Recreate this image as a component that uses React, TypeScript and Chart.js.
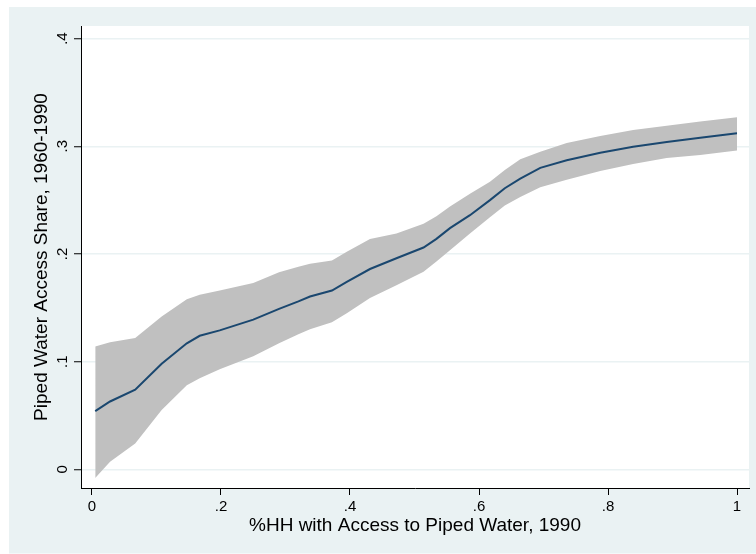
import React, { useEffect, useRef } from "react";
import { Chart, registerables } from "chart.js";

Chart.register(...registerables);

// x: %HH with access to piped water, 1990
const xs = [0.005, 0.028, 0.067, 0.108, 0.147, 0.167, 0.198, 0.25, 0.29, 0.32, 0.338, 0.372, 0.395, 0.431, 0.472, 0.514, 0.534, 0.555, 0.586, 0.617, 0.64, 0.664, 0.695, 0.736, 0.788, 0.839, 0.891, 0.943, 1.0];
// fitted share
const fit = [0.054, 0.063, 0.074, 0.098, 0.117, 0.124, 0.129, 0.139, 0.149, 0.156, 0.1605, 0.166, 0.174, 0.186, 0.196, 0.206, 0.214, 0.224, 0.236, 0.25, 0.261, 0.27, 0.28, 0.287, 0.294, 0.2995, 0.304, 0.308, 0.312];
// confidence band
const upper = [0.114, 0.118, 0.122, 0.142, 0.158, 0.162, 0.166, 0.173, 0.183, 0.188, 0.191, 0.194, 0.202, 0.214, 0.219, 0.228, 0.235, 0.244, 0.256, 0.267, 0.278, 0.288, 0.295, 0.303, 0.3095, 0.315, 0.319, 0.323, 0.327];
const lower = [-0.008, 0.007, 0.024, 0.055, 0.078, 0.0845, 0.093, 0.105, 0.117, 0.1255, 0.13, 0.1365, 0.145, 0.159, 0.171, 0.1835, 0.193, 0.2035, 0.219, 0.234, 0.245, 0.253, 0.262, 0.269, 0.277, 0.2835, 0.289, 0.292, 0.296];

const xTickValues = [0, 0.2, 0.4, 0.6, 0.8, 1];
const xTickLabels = ["0", ".2", ".4", ".6", ".8", "1"];
const yTickValues = [0, 0.1, 0.2, 0.3, 0.4];
const yTickLabels = ["0", ".1", ".2", ".3", ".4"];

const xTitle = "%HH with Access to Piped Water, 1990";
const yTitle = "Piped Water Access Share, 1960-1990";

const FONT = "'Liberation Sans', Arial, Helvetica, sans-serif";
const PANEL = "#eaf2f3";

export default function App() {
  const ref = useRef<HTMLCanvasElement | null>(null);

  useEffect(() => {
    const canvas = ref.current;
    if (!canvas) return;

    const bgPlugin = {
      id: "stataBg",
      beforeDraw(chart: any) {
        const ctx = chart.ctx;
        const a = chart.chartArea;
        ctx.save();
        ctx.fillStyle = "#ffffff";
        ctx.fillRect(0, 0, chart.width, chart.height);
        ctx.fillStyle = PANEL;
        ctx.fillRect(9, 7, chart.width - 9, chart.height - 7.5);
        ctx.fillStyle = "#ffffff";
        ctx.fillRect(a.left, a.top, a.right - a.left, a.bottom - a.top);
        ctx.restore();
      },
      afterDraw(chart: any) {
        const ctx = chart.ctx;
        const ys = chart.scales.y;
        ctx.save();
        ctx.fillStyle = "#000000";
        ctx.font = `15px ${FONT}`;
        ctx.textAlign = "center";
        ctx.textBaseline = "alphabetic";
        yTickValues.forEach((v, i) => {
          const py = ys.getPixelForValue(v);
          ctx.save();
          ctx.translate(67, py);
          ctx.rotate(-Math.PI / 2);
          ctx.fillText(yTickLabels[i], 0, 0);
          ctx.restore();
        });
        ctx.restore();
      },
    };

    const toPts = (arr: number[]) => arr.map((y, i) => ({ x: xs[i], y }));

    const chart = new Chart(canvas, {
      type: "line",
      data: {
        datasets: [
          {
            label: "lower",
            data: toPts(lower),
            borderWidth: 0,
            borderColor: "rgba(0,0,0,0)",
            pointRadius: 0,
            fill: false,
            tension: 0,
            order: 2,
          },
          {
            label: "upper",
            data: toPts(upper),
            borderWidth: 0,
            borderColor: "rgba(0,0,0,0)",
            backgroundColor: "#c0c0c0",
            pointRadius: 0,
            fill: "-1",
            tension: 0,
            order: 1,
          },
          {
            label: "fit",
            data: toPts(fit),
            borderWidth: 2,
            borderColor: "#1a476f",
            pointRadius: 0,
            fill: false,
            tension: 0,
            order: 0,
          },
        ],
      },
      options: {
        responsive: false,
        animation: false,
        devicePixelRatio: 1,
        layout: { padding: { left: 0, top: 26, right: 7, bottom: 0 } },
        plugins: {
          legend: { display: false },
          tooltip: { enabled: false },
          filler: { propagate: false, drawTime: "beforeDatasetsDraw" },
        },
        scales: {
          x: {
            type: "linear",
            min: -0.01705,
            max: 1.0186,
            afterFit(scale: any) {
              scale.height = 66;
            },
            afterBuildTicks(scale: any) {
              scale.ticks = xTickValues.map((v) => ({ value: v }));
            },
            grid: {
              drawOnChartArea: false,
              drawTicks: true,
              tickLength: 7,
              tickColor: "#000000",
              tickWidth: 1,
            },
            border: { display: true, color: "#000000", width: 1 },
            ticks: {
              padding: 3,
              maxRotation: 0,
              minRotation: 0,
              color: "#000000",
              font: { family: FONT, size: 15 },
              callback: (v: any) => {
                const i = xTickValues.findIndex((t) => Math.abs(t - Number(v)) < 1e-9);
                return i >= 0 ? xTickLabels[i] : "";
              },
            },
            title: {
              display: true,
              text: xTitle,
              color: "#000000",
              font: { family: FONT, size: 19 },
              padding: { top: 0, bottom: 17 },
            },
          },
          y: {
            type: "linear",
            min: -0.01736,
            max: 0.4117,
            afterFit(scale: any) {
              scale.width = 81;
            },
            afterBuildTicks(scale: any) {
              scale.ticks = yTickValues.map((v) => ({ value: v }));
            },
            grid: {
              drawOnChartArea: true,
              color: PANEL,
              lineWidth: 1.5,
              drawTicks: true,
              tickLength: 7,
              tickColor: "#000000",
              tickWidth: 1,
            },
            border: { display: true, color: "#000000", width: 1 },
            ticks: {
              padding: 4,
              color: "rgba(0,0,0,0)",
              font: { family: FONT, size: 15 },
              callback: (v: any) => {
                const i = yTickValues.findIndex((t) => Math.abs(t - Number(v)) < 1e-9);
                return i >= 0 ? yTickLabels[i] : "";
              },
            },
            title: {
              display: true,
              text: yTitle,
              color: "#000000",
              font: { family: FONT, size: 19 },
              padding: { top: 30, bottom: 0 },
            },
          },
        },
      },
      plugins: [bgPlugin],
    } as any);

    return () => chart.destroy();
  }, []);

  return (
    <div style={{ position: "absolute", left: 0, top: 0, width: 756, height: 554 }}>
      <canvas ref={ref} width={756} height={554} style={{ display: "block" }} />
    </div>
  );
}
